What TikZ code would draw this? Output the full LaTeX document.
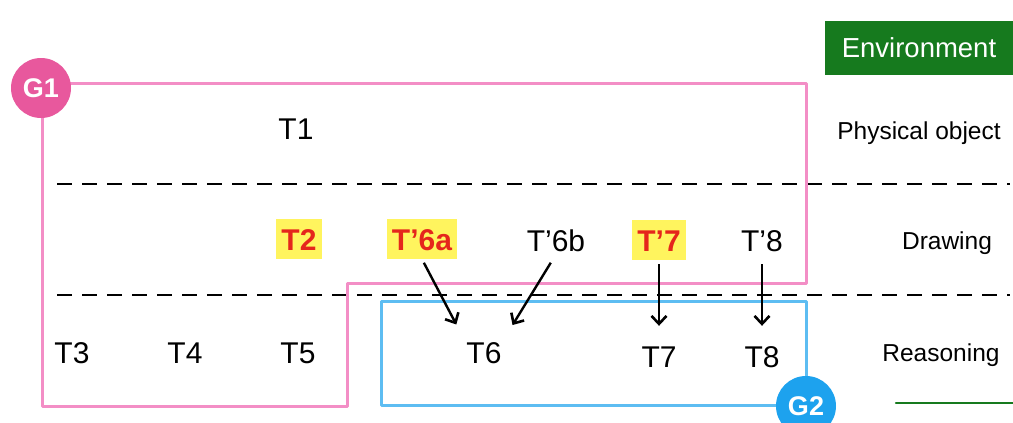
\documentclass[tikz,border=0pt]{standalone}
\usepackage{fontspec}
\setmainfont{Liberation Sans}
\usetikzlibrary{arrows.meta}
\definecolor{pinkline}{HTML}{F38EC6}
\definecolor{pinkdot}{HTML}{E8589D}
\definecolor{blueline}{HTML}{5DBDF2}
\definecolor{bluedot}{HTML}{1DA2EE}
\definecolor{envgreen}{HTML}{167A1E}
\definecolor{hiyellow}{HTML}{FFF45E}
\definecolor{hired}{HTML}{E5261C}
\tikzset{
  lbl/.style={font=\fontsize{30}{30}\selectfont, text height=22pt, text depth=0pt, inner sep=3pt},
  hilbl/.style={lbl, font=\fontsize{30}{30}\selectfont\bfseries, text=hired, fill=hiyellow, inner xsep=5pt, inner ysep=9pt},
  side/.style={font=\fontsize{24.5}{24.5}\selectfont, text height=18pt, text depth=0pt, inner sep=0pt},
  dashline/.style={dashed, dash pattern=on 15pt off 10pt, line width=1.8pt},
  arr/.style={-{Straight Barb[length=8pt,width=15pt,line width=2.6pt]}, line width=2.4pt},
  group/.style={circle, minimum size=60pt, inner sep=0pt, text=white, font=\fontsize{27}{27}\selectfont\bfseries}
}
\begin{document}
\begin{tikzpicture}[x=1pt,y=-1pt]
\useasboundingbox (0,0) rectangle (1013,423);
% dashed separators
\draw[dashline] (57,184) -- (1010,184);
\draw[dashline] (57,295) -- (1010,295);
% G1 region
\draw[pinkline, line width=3pt, line join=round] (42,83) -- (806,83) -- (806,283) -- (347,283) -- (347,406) -- (42,406) -- cycle;
% G2 region
\draw[blueline, line width=3pt, line join=round] (381,301) rectangle (806,405);
% group markers
\node[group, fill=pinkdot] (g1) at (41,88) {G1};
\node[group, fill=bluedot] (g2) at (806,406) {G2};
% environment box
\node[fill=envgreen, text=white, minimum width=188pt, minimum height=54pt, inner sep=0pt,
      font=\fontsize{27.5}{27.5}\selectfont] (env) at (919,48) {Environment};
\coordinate (gl1) at (896,403);
\coordinate (gl2) at (1013,403);
\draw[envgreen, line width=2.5pt, line cap=round] (gl1) -- (gl2);
% side labels
\node[side] (phys) at (919,130) {Physical object};
\node[side] (draw) at (947,240) {Drawing};
\node[side] (reas) at (941,352) {Reasoning};
% tasks
\node[lbl] (t1) at (296,128) {T1};
\node[hilbl] (t2) at (299,239) {T2};
\node[hilbl] (t6a) at (422,239) {T’6a};
\node[lbl] (t6b) at (556,240) {T’6b};
\node[hilbl] (t7p) at (659,240) {T’7};
\node[lbl] (t8p) at (762,240) {T’8};
\node[lbl] (t3) at (72,352) {T3};
\node[lbl] (t4) at (185,352) {T4};
\node[lbl] (t5) at (298,352) {T5};
\node[lbl] (t6) at (484,352) {T6};
\node[lbl] (t7) at (659,356) {T7};
\node[lbl] (t8) at (762,356) {T8};
% arrows
\draw[arr, shorten <=4pt, shorten >=15pt] (t6a.south) -- (t6.north west);
\draw[arr, shorten <=10pt, shorten >=15pt] (t6b.south) -- (t6.north east);
\draw[arr, shorten <=4pt, shorten >=16pt] (t7p.south) -- (t7.north);
\draw[arr, shorten <=10pt, shorten >=16pt] (t8p.south) -- (t8.north);
\end{tikzpicture}
\end{document}
